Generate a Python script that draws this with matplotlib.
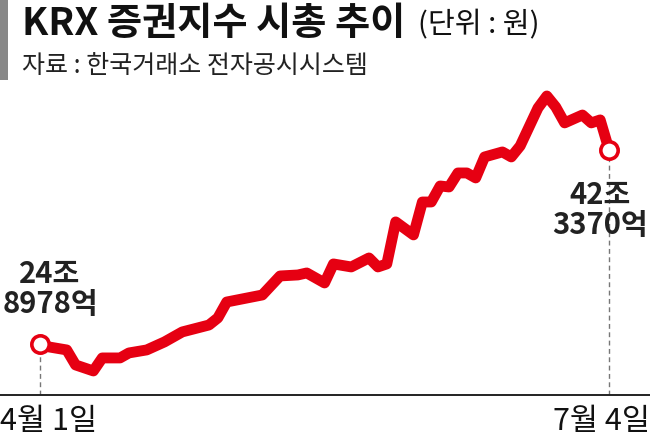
import matplotlib
matplotlib.use("Agg")
import matplotlib.pyplot as plt
from matplotlib.patches import Rectangle

plt.rcParams["font.family"] = ["Noto Sans CJK KR", "DejaVu Sans"]

# trading-day index from 4/1 and market cap (조 원)
days = [0, 1, 3, 4, 6, 7, 9, 10, 12, 14, 16, 19, 20, 21, 25, 27, 29, 30, 32, 33,
        35, 37, 38, 39, 40, 42, 43, 44, 45, 46, 47, 48, 49, 50, 52, 53, 54, 56,
        57, 58, 59, 61, 62, 63, 64]
cap = [24.90, 24.63, 24.36, 23.01, 22.47, 23.64, 23.64, 24.09, 24.36, 25.08,
       25.98, 26.60, 27.24, 28.67, 29.30, 31.01, 31.10, 31.28, 30.38, 32.09,
       31.82, 32.63, 31.82, 32.09, 35.87, 34.70, 37.66, 37.66, 39.10, 39.01,
       40.27, 40.27, 39.82, 41.71, 42.16, 41.71, 42.70, 46.11, 47.19, 46.20,
       44.77, 45.48, 44.77, 45.04, 42.34]

title = "KRX 증권지수 시총 추이"
unit = "(단위 : 원)"
source = "자료 : 한국거래소 전자공시시스템"
start_label = "24조\n8978억"
end_label = "42조\n3370억"
date_labels = ["4월 1일", "7월 4일"]

red = "#e60012"
W, H = 650, 444

fig = plt.figure(figsize=(6.5, 4.44), dpi=100)
ax = fig.add_axes([0, 0.1104, 1, 0.7095])
ax.set_xlim(-4.5, 68.6)
ax.set_ylim(20.31, 48.63)
ax.axis("off")

# baseline
ax.axhline(20.31, color="#222222", linewidth=1.4, clip_on=False)

# dashed guides
for d, v in [(days[0], cap[0]), (days[-1], cap[-1])]:
    ax.plot([d, d], [20.31, v], color="#777777", linewidth=1.0,
            linestyle=(0, (3.5, 2.5)), zorder=1)

ax.plot(days, cap, color=red, linewidth=7.8, solid_joinstyle="round",
        solid_capstyle="round", zorder=2)
ax.plot([days[0], days[-1]], [cap[0], cap[-1]], "o", markersize=12.5,
        markerfacecolor="white", markeredgecolor=red, markeredgewidth=2.6,
        zorder=3)

fig.text(50 / W, 1 - 289 / H, start_label, ha="center", va="center",
         multialignment="center", fontsize=21, fontweight="bold",
         color="#222222", linespacing=1.0)
fig.text(600 / W, 1 - 210 / H, end_label, ha="center", va="center",
         multialignment="center", fontsize=21, fontweight="bold",
         color="#222222", linespacing=1.0)

# header
fig.patches.append(Rectangle((0, H - 80), 8, 80, transform=None,
                             facecolor="#888888", edgecolor="none"))
fig.text(22 / W, 1 - 23 / H, title, ha="left", va="center",
         fontsize=27.5, fontweight="heavy", color="#111111")
fig.text(418 / W, 1 - 25 / H, unit, ha="left", va="center",
         fontsize=21, color="#111111")
fig.text(22 / W, 1 - 66 / H, source, ha="left", va="center",
         fontsize=18, color="#222222")

fig.text(0 / W, 1 - 421 / H, date_labels[0], ha="left", va="center",
         fontsize=22, color="#111111")
fig.text(W / W, 1 - 421 / H, date_labels[1], ha="right", va="center",
         fontsize=22, color="#111111")

fig.savefig("out.png", dpi=100)
